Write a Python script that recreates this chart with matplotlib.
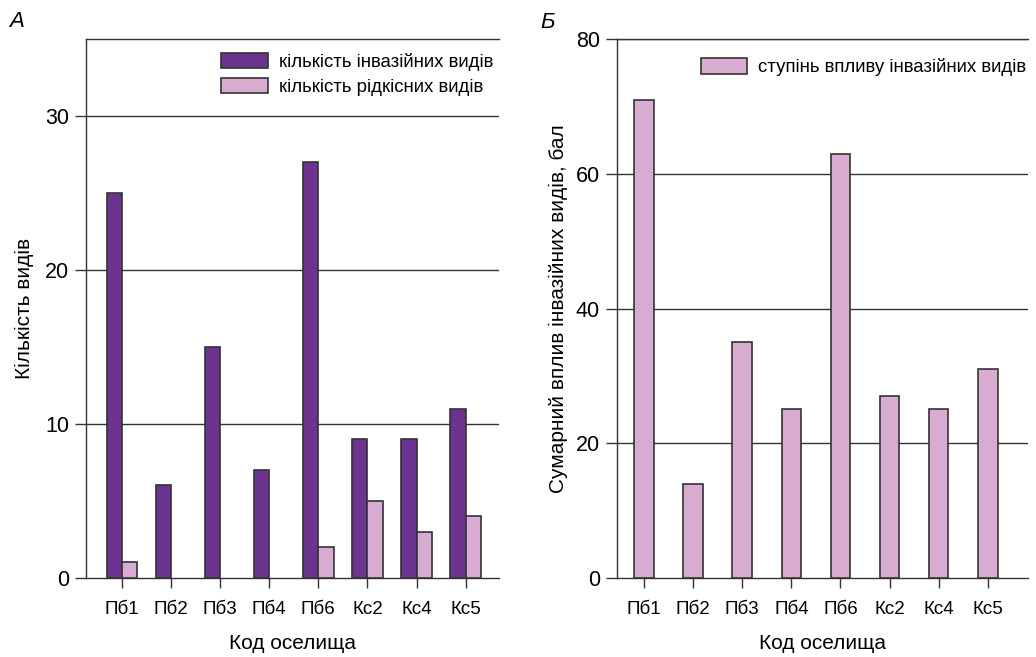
import matplotlib; matplotlib.use("Agg")
import matplotlib.pyplot as plt
import numpy as np

plt.rcParams["font.family"] = ["Liberation Sans", "DejaVu Sans"]

# ---- data ----
sites = ["Пб1", "Пб2", "Пб3", "Пб4", "Пб6", "Кс2", "Кс4", "Кс5"]
invasive = [25, 6, 15, 7, 27, 9, 9, 11]
rare = [1, 0, 0, 0, 2, 5, 3, 4]
impact = [71, 14, 35, 25, 63, 27, 25, 31]

dark, light, edge = "#6c3391", "#d7acd0", "#333333"
x = np.arange(len(sites))

fig = plt.figure(figsize=(10.36, 6.57), dpi=100)
axa = fig.add_axes([0.083, 0.1207, 0.3987, 0.8193])
axb = fig.add_axes([0.5953, 0.1207, 0.397, 0.8193])

def style(ax, ylim, yt, xlim):
    ax.set_ylim(*ylim); ax.set_xlim(*xlim)
    ax.set_yticks(yt)
    ax.set_xticks(x); ax.set_xticklabels(sites)
    ax.spines["right"].set_visible(False)
    for s in ("left", "top", "bottom"):
        ax.spines[s].set_color(edge); ax.spines[s].set_linewidth(1.0)
    ax.tick_params(axis="y", length=8, width=1.0, color=edge, labelsize=15.5, pad=4)
    ax.tick_params(axis="x", length=7, width=1.0, color=edge, labelsize=13.5, pad=10)
    for v in yt[1:]:
        ax.axhline(v, color=edge, lw=1.0, zorder=1)
    ax.set_xlabel("Код оселища", fontsize=15, labelpad=11)

# ---- panel A ----
w = 0.31
axa.bar(x - w/2, invasive, w, color=dark, edgecolor=edge, lw=1.2, zorder=3,
        label="кількість інвазійних видів")
rb = axa.bar(x + w/2, rare, w, color=light, edgecolor=edge, lw=1.2, zorder=3,
             label="кількість рідкісних видів")
for p, v in zip(rb.patches, rare):
    if v == 0:
        p.set_visible(False)
style(axa, (0, 35), [0, 10, 20, 30], (-0.73, 7.68))
axa.set_ylabel("Кількість видів", fontsize=15, labelpad=8)
axa.legend(loc="upper left", bbox_to_anchor=(0.327, 0.975), frameon=False,
           fontsize=13.4, handlelength=2.5, handleheight=0.9, handletextpad=0.6,
           labelspacing=0.35, borderpad=0, borderaxespad=0)

# ---- panel B ----
axb.bar(x, impact, 0.4, color=light, edgecolor=edge, lw=1.2, zorder=3,
        label="ступінь впливу інвазійних видів")
style(axb, (0, 80), [0, 20, 40, 60, 80], (-0.556, 7.82))
axb.set_ylabel("Сумарний вплив інвазійних видів, бал", fontsize=15, labelpad=6)
axb.legend(loc="upper left", bbox_to_anchor=(0.204, 0.965), frameon=False,
           fontsize=13.4, handlelength=2.5, handleheight=0.9, handletextpad=0.6,
           borderpad=0, borderaxespad=0)

fig.text(0.009, 0.959, "А", fontsize=16, style="italic")
fig.text(0.522, 0.957, "Б", fontsize=16, style="italic")

fig.savefig("out.png", dpi=100)
